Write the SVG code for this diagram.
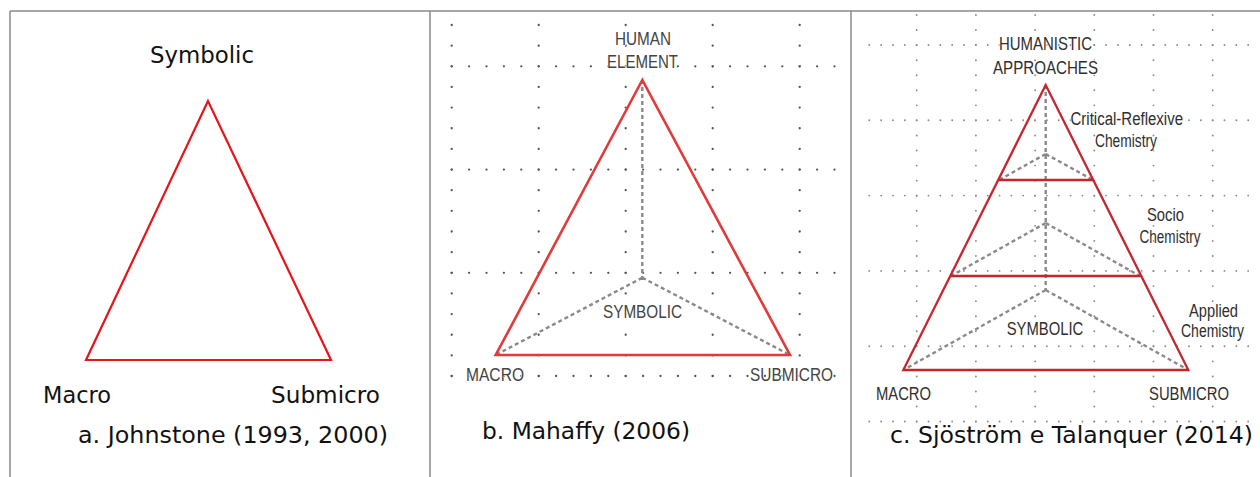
<svg xmlns="http://www.w3.org/2000/svg" width="1260" height="477" viewBox="0 0 1260 477">
<style>
.frame{stroke:#8a8a8a;stroke-width:1.5;fill:none}
.cap{font-family:"DejaVu Sans","Verdana",sans-serif;font-size:23px;fill:#111}
.lb{font-family:"Liberation Sans",Arial,sans-serif;font-size:18px;fill:#444;stroke:#fff;stroke-width:1.6;paint-order:stroke;stroke-linejoin:round}
.lc{font-family:"Liberation Sans",Arial,sans-serif;font-size:18px;fill:#2e2e2e;stroke:#fff;stroke-width:1.6;paint-order:stroke;stroke-linejoin:round}
.dotb{stroke:#555;stroke-width:2.3;stroke-linecap:round;fill:none}
.dotc{stroke:#8c8c8c;stroke-width:1.9;stroke-linecap:round;fill:none}
.dash{stroke:#8a8a8a;stroke-width:2.4;stroke-dasharray:4 3;fill:none}
</style>
<rect width="1260" height="477" fill="#fff"/>
<g id="frames">
<path class="frame" d="M10 11H1260M10 11V477M430 11V477M851 11V477"/>
</g>

<g id="panel-a">
<polygon points="208,101 86,360 331,360" fill="none" stroke="#e6141b" stroke-width="2.2"/>
<text class="cap" x="150" y="63" textLength="104" lengthAdjust="spacingAndGlyphs">Symbolic</text>
<text class="cap" x="43" y="403" textLength="68" lengthAdjust="spacingAndGlyphs">Macro</text>
<text class="cap" x="271" y="403" textLength="109" lengthAdjust="spacingAndGlyphs">Submicro</text>
<text class="cap" x="78" y="443" textLength="310" lengthAdjust="spacingAndGlyphs">a. Johnstone (1993, 2000)</text>
</g>

<g id="panel-b">
<g id="grid-b" class="dotb" stroke-dasharray="0 20.65">
<path d="M451.7 25V377M538.7 25V377M625.7 25V377M712.7 25V377M799.7 25V377"/>
</g>
<g class="dotb" stroke-dasharray="0 17.4">
<path d="M451.7 66.3H836M451.7 169.6H836M451.7 272.8H836M451.7 376H836"/>
</g>
<g id="connectors-b">
<path class="dash" d="M642.3 80V277.7M642.3 277.7L495.7 355M642.3 277.7L790 355"/>
</g>
<polygon id="triangle-b" points="642.3,80 495.7,355 790,355" fill="none" stroke="#e23a3a" stroke-width="2.6"/>
<text class="lb" x="615" y="45" textLength="56" lengthAdjust="spacingAndGlyphs">HUMAN</text>
<text class="lb" x="607" y="68" textLength="71" lengthAdjust="spacingAndGlyphs">ELEMENT</text>
<text class="lb" x="603" y="318" textLength="79" lengthAdjust="spacingAndGlyphs">SYMBOLIC</text>
<text class="lb" x="466" y="381" textLength="58" lengthAdjust="spacingAndGlyphs">MACRO</text>
<text class="lb" x="750" y="381" textLength="83" lengthAdjust="spacingAndGlyphs">SUBMICRO</text>
<text class="cap" x="482" y="439" textLength="208" lengthAdjust="spacingAndGlyphs">b. Mahaffy (2006)</text>
</g>

<g id="panel-c">
<g id="grid-c" class="dotc" stroke-dasharray="0 15.06">
<path d="M916.7 15V422M975.9 15V422M1035.1 15V422M1094.3 15V422M1153.5 15V422M1212.7 15V422"/>
</g>
<g class="dotc" stroke-dasharray="0 11.84">
<path d="M869.3 45H1250M869.3 120.3H1250M869.3 195.6H1250M869.3 270.9H1250M869.3 346.2H1250M869.3 421.5H1250"/>
</g>
<g id="connectors-c">
<path class="dash" d="M1045.7 85V290M1045.7 154L999 180M1045.7 154L1093 180M1045.7 223L951 276M1045.7 223L1140 276M1045.7 290L903.3 370M1045.7 290L1188.3 370"/>
</g>
<g id="triangle-c" fill="none" stroke="#c4262e" stroke-width="2.3">
<polygon points="1045.7,85 903.3,370 1188.3,370"/>
<path d="M998.2 180H1093.2M950.3 276H1141.1"/>
</g>
<text class="lc" x="999" y="50" textLength="93" lengthAdjust="spacingAndGlyphs">HUMANISTIC</text>
<text class="lc" x="993" y="74" textLength="105" lengthAdjust="spacingAndGlyphs">APPROACHES</text>
<text class="lc" x="1070.5" y="125" textLength="112.5" lengthAdjust="spacingAndGlyphs">Critical-Reflexive</text>
<text class="lc" x="1095" y="147" textLength="62" lengthAdjust="spacingAndGlyphs">Chemistry</text>
<text class="lc" x="1147" y="220.5" textLength="37" lengthAdjust="spacingAndGlyphs">Socio</text>
<text class="lc" x="1139.5" y="243" textLength="61" lengthAdjust="spacingAndGlyphs">Chemistry</text>
<text class="lc" x="1189" y="316.5" textLength="49" lengthAdjust="spacingAndGlyphs">Applied</text>
<text class="lc" x="1181" y="337" textLength="63" lengthAdjust="spacingAndGlyphs">Chemistry</text>
<text class="lc" x="1006.7" y="334.5" textLength="76.6" lengthAdjust="spacingAndGlyphs">SYMBOLIC</text>
<text class="lc" x="876" y="400" textLength="55" lengthAdjust="spacingAndGlyphs">MACRO</text>
<text class="lc" x="1149" y="400" textLength="80" lengthAdjust="spacingAndGlyphs">SUBMICRO</text>
<text class="cap" x="890" y="443" textLength="363" lengthAdjust="spacingAndGlyphs">c. Sjöström e Talanquer (2014)</text>
</g>
</svg>
